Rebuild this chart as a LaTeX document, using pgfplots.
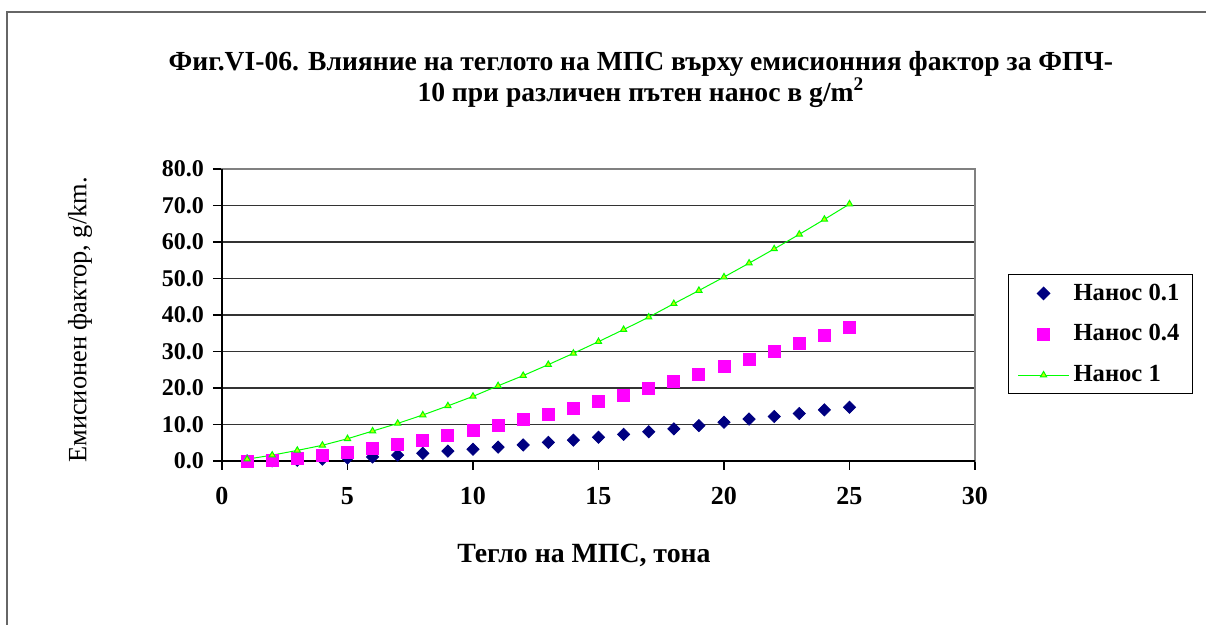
\documentclass[border=0pt]{standalone}
\usepackage{fontspec}
\setmainfont{Liberation Serif}
\usepackage{pgfplots}
\pgfplotsset{compat=1.18}
\definecolor{navyb}{RGB}{0,0,128}
\definecolor{magp}{RGB}{255,0,255}
\definecolor{lgreen}{RGB}{0,255,0}
\definecolor{tfill}{RGB}{190,255,0}
\begin{document}
\begin{tikzpicture}
\useasboundingbox (0,0) rectangle (603pt,312.5pt);
\draw[black!60, line width=0.6pt] (3.5pt,-1pt) -- (3.5pt,306.5pt) -- (604pt,306.5pt);
\begin{axis}[
  at={(111pt,82pt)}, anchor=south west,
  scale only axis, width=376.5pt, height=146pt,
  xmin=0, xmax=30, ymin=0, ymax=80,
  xtick={0,5,...,30}, ytick={0,10,...,80},
  xtick pos=bottom, ytick pos=left, tick align=outside,
  major tick length=4.5pt,
  tick style={black, line width=0.6pt},
  ymajorgrids, grid style={black!80, line width=0.6pt},
  axis line style={black!50, line width=0.8pt},
  clip=false,
  /pgf/number format/assume math mode=true,
  yticklabel style={/pgf/number format/fixed, /pgf/number format/fixed zerofill, /pgf/number format/precision=1, xshift=-1pt, font=\bfseries\fontsize{12}{14}\selectfont},
  xticklabel style={yshift=-5pt, font=\bfseries\fontsize{13}{15}\selectfont},
  title={Фиг.VI-06. Влияние на теглото на МПС върху емисионния фактор за ФПЧ-\\10 при различен пътен нанос в g/m\textsuperscript{2}},
  title style={at={(0.5564,1.315)}, anchor=center, yshift=-7pt, align=center, font=\bfseries\fontsize{13.8}{15.5}\selectfont},
  xlabel={Тегло на МПС, тона},
  xlabel style={at={(0.4807,-0.322)}, anchor=center, font=\bfseries\fontsize{13.9}{15}\selectfont},
  ylabel={Емисионен фактор, g/km.},
  ylabel style={at={(-0.1886,0.483)}, anchor=center, font=\fontsize{13.2}{15}\selectfont},
  legend style={at={(1.0438,0.640)}, anchor=north west, draw=black, line width=0.6pt,
    font=\bfseries\fontsize{12.3}{14}\selectfont, inner xsep=4.5pt, inner ysep=2.5pt,
    row sep=6.75pt, cells={anchor=west}},
  legend image code/.code={\draw[mark repeat=2,mark phase=2,#1] plot coordinates {(0pt,0pt) (12.75pt,0pt) (25.5pt,0pt)};},
]
\draw[black, line width=0.8pt] (rel axis cs:0,1) -- (rel axis cs:0,0) -- (rel axis cs:1,0);
\addplot[only marks, mark=square*, mark size=2.15pt, mark options={rotate=45, draw=navyb, fill=navyb}] coordinates {
(1,0.0) (2,0.05) (3,0.2) (4,0.5) (5,0.8) (6,1.1) (7,1.6) (8,2.1) (9,2.7) (10,3.2)
(11,3.8) (12,4.4) (13,5.1) (14,5.7) (15,6.5) (16,7.3) (17,8.0) (18,8.8) (19,9.7) (20,10.6)
(21,11.5) (22,12.2) (23,13.0) (24,14.0) (25,14.7)};
\addlegendentry{Нанос 0.1}
\addplot[only marks, mark=square*, mark size=3pt, mark options={draw=magp, fill=magp}] coordinates {
(1,0.0) (2,0.2) (3,0.7) (4,1.5) (5,2.4) (6,3.5) (7,4.5) (8,5.7) (9,6.9) (10,8.3)
(11,9.8) (12,11.4) (13,12.9) (14,14.5) (15,16.3) (16,18.0) (17,19.9) (18,21.7) (19,23.7) (20,25.8)
(21,27.8) (22,29.9) (23,32.1) (24,34.4) (25,36.6)};
\addlegendentry{Нанос 0.4}
\addplot[lgreen, line width=0.5pt, mark=triangle*, mark size=1.8pt, mark options={draw=lgreen, fill=tfill, line width=0.5pt}] coordinates {
(1,0.5) (2,1.6) (3,2.9) (4,4.3) (5,6.1) (6,8.2) (7,10.3) (8,12.6) (9,15.1) (10,17.7)
(11,20.6) (12,23.4) (13,26.4) (14,29.5) (15,32.7) (16,36.0) (17,39.4) (18,43.1) (19,46.7) (20,50.4)
(21,54.2) (22,58.1) (23,62.1) (24,66.2) (25,70.4)};
\addlegendentry{Нанос 1}
\end{axis}
\end{tikzpicture}
\end{document}
